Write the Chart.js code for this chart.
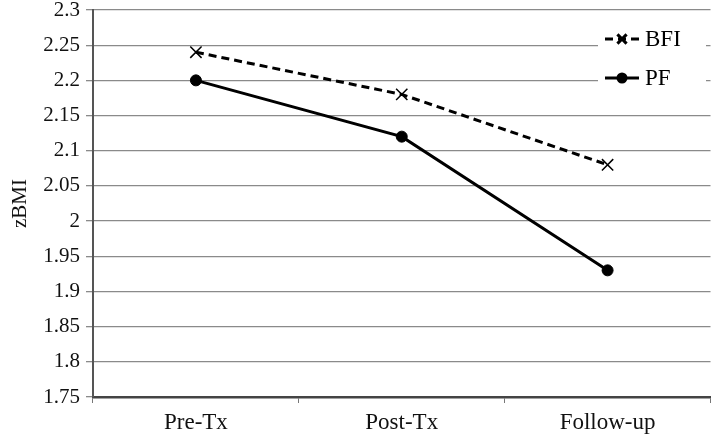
<!DOCTYPE html>
<html>
<head>
<meta charset="utf-8">
<script src="https://cdn.jsdelivr.net/npm/chart.js@4"></script>
<style>
  html, body { margin: 0; padding: 0; background: #fff; }
  #wrap { width: 720px; height: 444px; }
</style>
</head>
<body>
<div id="wrap"><canvas id="chart"></canvas></div>
<script>
"use strict";

const categories = ["Pre-Tx", "Post-Tx", "Follow-up"]
const bfi_values = [2.24, 2.18, 2.08]
const pf_values = [2.20, 2.12, 1.93]
const y_min = 1.75
const y_max = 2.3
const y_step = 0.05

// legend drawn inside the plot, with a white box over the grid
const box_legend = {
    id: "box_legend",
    afterDatasetsDraw(chart) {
        const ctx = chart.ctx
        ctx.save()
        ctx.fillStyle = "#fff"
        ctx.fillRect(598, 22, 108, 74)
        chart.data.datasets.forEach((ds, i) => {
            const y = 39 + i * 39
            ctx.strokeStyle = "#000"
            ctx.lineWidth = 3
            ctx.setLineDash(ds.borderDash || [])
            ctx.beginPath()
            ctx.moveTo(605, y)
            ctx.lineTo(639, y)
            ctx.stroke()
            ctx.setLineDash([])
            Chart.helpers.drawPoint(ctx, {
                pointStyle: ds.pointStyle,
                radius: ds.pointRadius - 1.5,
                borderWidth: ds.pointBorderWidth
            }, 622, y)
            ctx.fillStyle = "#000"
            ctx.font = "23px 'Liberation Serif'"
            ctx.textBaseline = "middle"
            ctx.fillText(ds.label, 645, y + 1)
        })
        ctx.restore()
    }
}

const data = {
    labels: categories,
    datasets: [
        {
            label: "BFI",
            data: bfi_values,
            borderColor: "#000",
            backgroundColor: "#000",
            borderWidth: 3,
            borderDash: [8, 5],
            pointStyle: "crossRot",
            pointRadius: 8,
            pointBorderWidth: 1.5,
            pointBorderColor: "#000",
            tension: 0
        },
        {
            label: "PF",
            data: pf_values,
            borderColor: "#000",
            backgroundColor: "#000",
            borderWidth: 3,
            pointStyle: "circle",
            pointRadius: 5.5,
            pointBorderWidth: 1,
            pointBackgroundColor: "#000",
            tension: 0
        }
    ]
}

const config = {
    type: "line",
    data: data,
    plugins: [box_legend],
    options: {
        responsive: false,
        animation: false,
        layout: { padding: { top: 10, right: 2, left: 0, bottom: 0 } },
        plugins: {
            legend: { display: false },
            tooltip: { enabled: false }
        },
        scales: {
            x: {
                type: "category",
                offset: true,
                afterFit: s => { s.height = 47 },
                border: { color: "#444", width: 2.5 },
                grid: { offset: true, drawOnChartArea: false, drawTicks: true, tickLength: 6, color: "#777" },
                ticks: {
                    color: "#111",
                    padding: 6,
                    font: { family: "'Liberation Serif'", size: 23 }
                }
            },
            y: {
                min: y_min,
                max: y_max,
                afterFit: s => { s.width = 93; s.paddingTop = 0 },
                border: { color: "#555", width: 2 },
                grid: { color: "#8a8a8a", lineWidth: 1.3, tickLength: 7 },
                ticks: {
                    stepSize: y_step,
                    color: "#111",
                    padding: 6,
                    font: { family: "'Liberation Serif'", size: 21 },
                    callback: v => String(parseFloat(v.toFixed(2)))
                },
                title: {
                    display: true,
                    text: "zBMI",
                    color: "#111",
                    padding: { top: 8, bottom: 0 },
                    font: { family: "'Liberation Serif'", size: 21 }
                }
            }
        }
    }
}

const canv = document.getElementById("chart")
canv.width = 720
canv.height = 444
new Chart(canv, config)
</script>
</body>
</html>
